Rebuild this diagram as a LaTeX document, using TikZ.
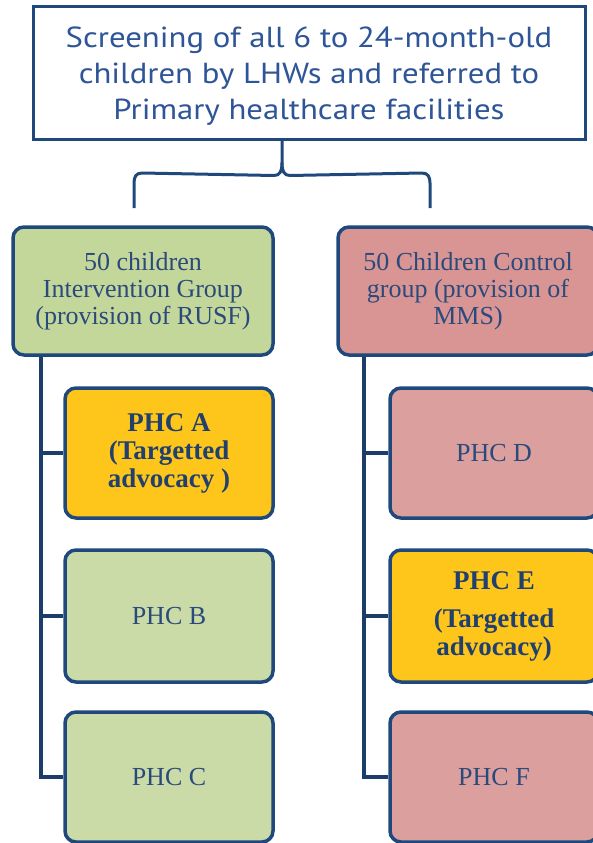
\documentclass[tikz,border=0pt]{standalone}
\usepackage{fontspec}
\usetikzlibrary{calc,backgrounds}
\setmainfont{Liberation Serif}
\newfontfamily\headfont[FakeStretch=1.13]{PT Sans}
\definecolor{edgeblue}{HTML}{1F497D}
\definecolor{trunkblue}{HTML}{1C3C6A}
\definecolor{headtext}{HTML}{2E5597}
\definecolor{bodytext}{HTML}{2B4A7C}
\definecolor{boldtext}{HTML}{22406E}
\definecolor{grpgreen}{HTML}{C4D79B}
\definecolor{phcgreen}{HTML}{CADBA7}
\definecolor{grppink}{HTML}{D99594}
\definecolor{phcpink}{HTML}{DB9F9E}
\definecolor{phcyellow}{HTML}{FEC61A}
\begin{document}
\begin{tikzpicture}[x=1pt,y=-1pt,
  headbox/.style={draw=edgeblue, line width=3pt, fill=white, align=center,
    minimum width=552pt, minimum height=132pt, inner sep=0pt, text depth=0pt,
    text=headtext, font=\headfont\fontsize{29}{36}\selectfont},
  grpbox/.style={draw=edgeblue, line width=3.5pt, rounded corners=11pt, align=center,
    minimum width=260pt, minimum height=128pt, inner sep=0pt,
    text=bodytext, font=\fontsize{26}{27}\selectfont},
  phcbox/.style={draw=edgeblue, line width=3.5pt, rounded corners=11pt, align=center,
    minimum width=208pt, minimum height=130pt, inner sep=0pt,
    text=bodytext, font=\fontsize{26}{27.5}\selectfont},
  keybox/.style={phcbox, fill=phcyellow, text=boldtext, font=\bfseries\fontsize{27}{28}\selectfont},
  link/.style={draw=trunkblue, line width=3.5pt},
  brace/.style={draw=edgeblue, line width=3pt, line join=round}]
\useasboundingbox (0,0) rectangle (592,843);

% column positions of the vertical trunks and of the brace
\coordinate (trunkL) at (41,0);
\coordinate (trunkR) at (364,0);
\coordinate (braceL) at (134,208);
\coordinate (braceR) at (430,208);
\coordinate (braceM) at (282,0);

% heading box
\node[headbox] (top) at (309,73) {Screening of all 6 to 24-month-old\\children by LHWs and referred to\\Primary healthcare facilities};

% the two study groups
\node[grpbox, fill=grpgreen] (gL) at (143,291) {50 children\\Intervention Group\\(provision of RUSF)};
\node[grpbox, fill=grppink] (gR) at (468,291) {50 Children Control\\group (provision of\\MMS)};

% health centres of each group
\node[keybox] (pA) at (169,453) {PHC A\\(Targetted\\advocacy )};
\node[phcbox, fill=phcgreen, minimum height=132pt] (pB) at (169,616) {PHC B};
\node[phcbox, fill=phcgreen] (pC) at (169,777) {PHC C};

\node[phcbox, fill=phcpink] (pD) at (494,453) {PHC D};
\node[keybox, minimum height=132pt] (pE) at (494,616) {PHC E\\[10pt](Targetted\\advocacy)};
\node[phcbox, fill=phcpink] (pF) at (494,777) {PHC F};

% trunks and branches, behind the boxes
\begin{scope}[on background layer]
\draw[link] (gL.south -| trunkL) |- (pC.west);
\draw[link] (pA.west -| trunkL) -- (pA.west);
\draw[link] (pB.west -| trunkL) -- (pB.west);
\draw[link] (gR.south -| trunkR) |- (pF.west);
\draw[link] (pD.west -| trunkR) -- (pD.west);
\draw[link] (pE.west -| trunkR) -- (pE.west);
\end{scope}

% brace splitting the heading into the two groups
\draw[brace] (top.south -| braceM) -- ++(0,22)
  .. controls +(0,9) and +(6,0) .. ++(-8,13)
  -- ($(braceL)+(8,-35)$)
  .. controls +(-6,0) and +(0,-6) .. ++(-8,10) -- (braceL);
\draw[brace] (top.south -| braceM) ++(0,22)
  .. controls +(0,9) and +(-6,0) .. ++(8,13)
  -- ($(braceR)+(-8,-35)$)
  .. controls +(6,0) and +(0,-6) .. ++(8,10) -- (braceR);
\end{tikzpicture}
\end{document}
